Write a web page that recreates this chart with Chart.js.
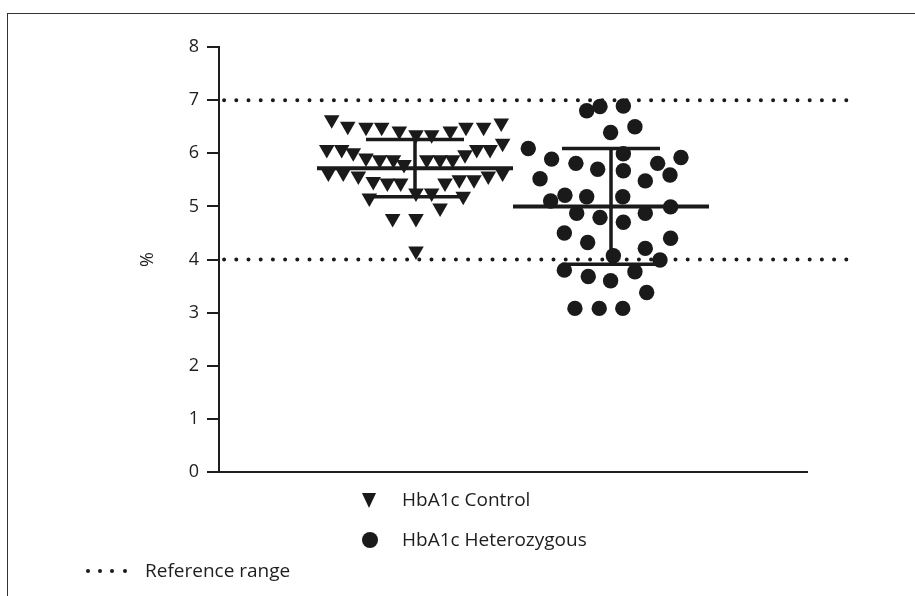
<!DOCTYPE html>
<html>
<head>
<meta charset="utf-8">
<script src="https://cdn.jsdelivr.net/npm/chart.js@4/dist/chart.umd.min.js"></script>
<style>
  body { margin: 0; background: #fff; }
  #wrap { position: relative; width: 915px; height: 596px; font-family: "Open Sans", sans-serif; color: #1e1e1e; }
  #frame { position: absolute; left: 7px; top: 13px; right: 0; bottom: 0; border-top: 1.5px solid #333; border-left: 1.5px solid #333; }
  canvas { position: absolute; left: 0; top: 0; }
  .leg { position: absolute; font-size: 19px; line-height: 22px; white-space: nowrap; }
  .tri { position: absolute; width: 0; height: 0; border-left: 7.5px solid transparent; border-right: 7.5px solid transparent; border-top: 15px solid #1a1a1a; }
  .dot { position: absolute; border-radius: 50%; background: #1a1a1a; }
</style>
</head>
<body>
<div id="wrap">
  <div id="frame"></div>
  <canvas id="chart" width="915" height="596"></canvas>
  <div class="tri" style="left:362px; top:493px;"></div>
  <div class="leg" style="left:402px; top:488px;">HbA1c Control</div>
  <div class="dot" style="left:362px; top:532px; width:16px; height:16px;"></div>
  <div class="leg" style="left:402px; top:528px;">HbA1c Heterozygous</div>
  <div class="dot" style="left:86px; top:569px; width:4px; height:4px;"></div>
  <div class="dot" style="left:98px; top:569px; width:4px; height:4px;"></div>
  <div class="dot" style="left:110px; top:569px; width:4px; height:4px;"></div>
  <div class="dot" style="left:123px; top:569px; width:4px; height:4px;"></div>
  <div class="leg" style="left:145px; top:559px;">Reference range</div>
</div>
<script>
// group positions on the hidden x axis
var groupNames = ["HbA1c Control", "HbA1c Heterozygous"];
var groupPos = [1, 2];

// HbA1c control (%), with horizontal jitter
var controlX = [0.575, 0.657, 0.75, 0.83, 0.92, 1.005, 1.085, 1.18, 1.26, 1.35, 1.44,
    0.55, 0.626, 0.685, 0.75, 0.82, 0.89, 0.944, 1.06, 1.128, 1.192, 1.255, 1.315, 1.383, 1.447,
    0.558, 0.634, 0.711, 0.787, 0.859, 0.927, 1.153, 1.226, 1.301, 1.374, 1.447,
    1.005, 1.085, 0.767, 1.246, 1.128,
    0.886, 1.005, 1.005];
var controlY = [6.63, 6.51, 6.49, 6.49, 6.42, 6.35, 6.35, 6.42, 6.49, 6.49, 6.57,
    6.07, 6.07, 6.01, 5.91, 5.88, 5.88, 5.79, 5.88, 5.88, 5.88, 5.97, 6.07, 6.07, 6.19,
    5.63, 5.63, 5.57, 5.47, 5.44, 5.44, 5.44, 5.50, 5.50, 5.57, 5.63,
    5.25, 5.25, 5.16, 5.19, 4.97,
    4.77, 4.77, 4.16];

// HbA1c heterozygous (%)
var hetX = [1.876, 1.944, 2.063, 1.998, 2.122, 1.578, 1.697, 1.821, 1.932, 2.063,
    2.063, 2.238, 2.357, 1.638, 2.175, 2.301, 1.692, 1.765, 1.876, 2.06,
    1.825, 1.944, 2.063, 2.175, 2.304, 1.762, 1.881, 2.012, 2.175, 2.304,
    2.25, 1.762, 1.884, 1.998, 2.122, 2.182, 1.816, 1.94, 2.06];
var hetY = [6.80, 6.88, 6.89, 6.39, 6.50, 6.09, 5.89, 5.81, 5.70, 5.99,
    5.67, 5.81, 5.92, 5.52, 5.48, 5.59, 5.10, 5.21, 5.18, 5.18,
    4.87, 4.79, 4.70, 4.87, 4.99, 4.50, 4.32, 4.07, 4.21, 4.40,
    3.99, 3.80, 3.68, 3.60, 3.77, 3.38, 3.08, 3.08, 3.08];

// mean and SD per group
var groupMean = [5.72, 5.00];
var groupSD = [0.54, 1.09];

// reference range
var refRange = [4, 7];

var yTicks = [0, 1, 2, 3, 4, 5, 6, 7, 8];

function points(xs, ys) {
    return xs.map(function(x, i) { return { x: x, y: ys[i] }; });
}

var meanHalf = 0.5, capHalf = 0.25;
var ink = "#1a1a1a";

var datasets = [];

refRange.forEach(function(v) {
    datasets.push({
        type: "line",
        label: "Reference range",
        data: [{ x: 0.026, y: v }, { x: 3.22, y: v }],
        borderColor: ink,
        borderWidth: 4,
        borderDash: [0, 12.2],
        borderCapStyle: "round",
        pointRadius: 0,
        clip: false,
        order: 3
    });
});

groupPos.forEach(function(c, i) {
    var m = groupMean[i], hi = m + groupSD[i], lo = m - groupSD[i];
    datasets.push({
        type: "line",
        label: groupNames[i] + " mean",
        data: [{ x: c - meanHalf, y: m }, { x: c + meanHalf, y: m }],
        borderColor: ink,
        borderWidth: 4,
        pointRadius: 0,
        order: 1
    });
    datasets.push({
        type: "line",
        label: groupNames[i] + " SD",
        data: [
            { x: c - capHalf, y: hi }, { x: c + capHalf, y: hi }, { x: c, y: null },
            { x: c, y: hi }, { x: c, y: lo }, { x: c, y: null },
            { x: c - capHalf, y: lo }, { x: c + capHalf, y: lo }
        ],
        borderColor: ink,
        borderWidth: 3.5,
        pointRadius: 0,
        spanGaps: false,
        order: 1
    });
});

datasets.push({
    type: "scatter",
    label: groupNames[0],
    data: points(controlX, controlY),
    pointStyle: "triangle",
    rotation: 180,
    pointRadius: 9,
    backgroundColor: ink,
    borderWidth: 0,
    order: 2
});
datasets.push({
    type: "scatter",
    label: groupNames[1],
    data: points(hetX, hetY),
    pointStyle: "circle",
    pointRadius: 7.7,
    backgroundColor: ink,
    borderWidth: 0,
    order: 2
});

var tickFont = { family: "'Open Sans', sans-serif", size: 18 };

new Chart(document.getElementById("chart").getContext("2d"), {
    type: "scatter",
    data: { datasets: datasets },
    options: {
        responsive: false,
        animation: false,
        events: [],
        layout: { padding: { left: 0, right: 108, top: 47, bottom: 124 } },
        plugins: { legend: { display: false }, tooltip: { enabled: false } },
        scales: {
            x: {
                type: "linear",
                min: 0,
                max: 3,
                ticks: { display: false },
                grid: { display: false },
                border: { display: true, color: "#1e1e1e", width: 2 },
                afterFit: function(s) { s.height = 0; }
            },
            y: {
                type: "linear",
                min: 0,
                max: 8,
                afterBuildTicks: function(s) { s.ticks = yTicks.map(function(v) { return { value: v }; }); },
                ticks: { color: "#1e1e1e", font: tickFont, padding: 8 },
                grid: { drawOnChartArea: false, drawTicks: true, tickLength: 12, color: "#1e1e1e", lineWidth: 2 },
                border: { display: true, color: "#1e1e1e", width: 2 },
                title: { display: true, text: "%", color: "#1e1e1e", font: tickFont, padding: { top: 137 } },
                afterFit: function(s) { s.width = 219; }
            }
        }
    }
});
</script>
</body>
</html>
